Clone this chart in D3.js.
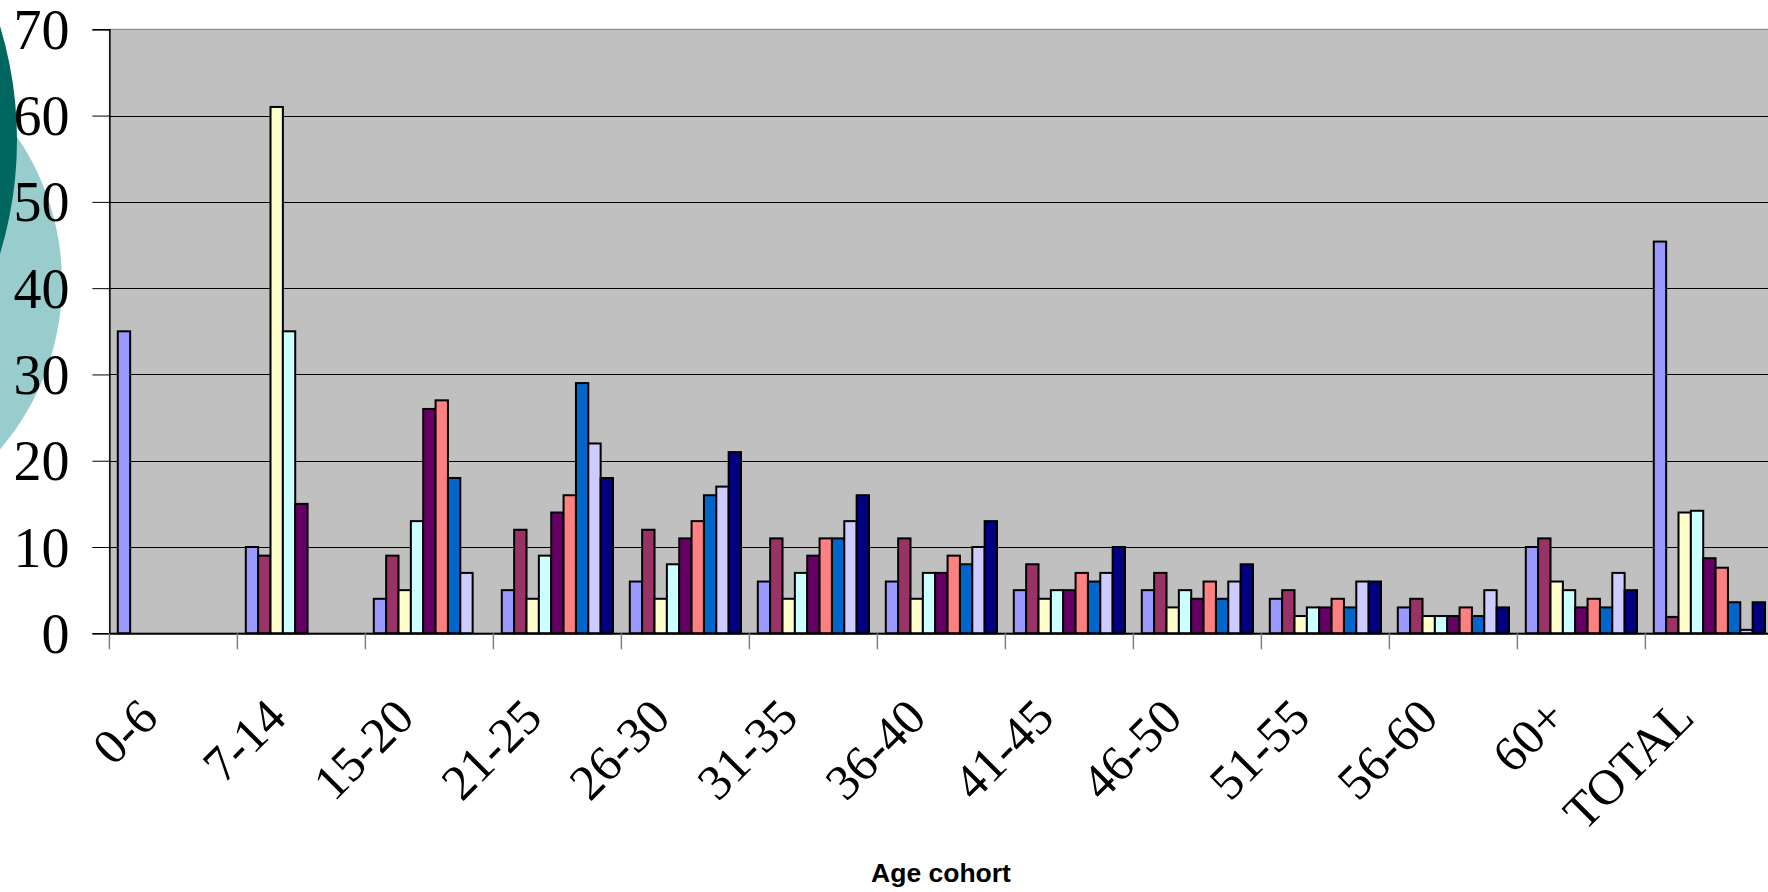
<!DOCTYPE html>
<html>
<head>
<meta charset="utf-8">
<script src="https://cdn.jsdelivr.net/npm/d3@7"></script>
<style>
  html, body { margin: 0; padding: 0; background: #fff; overflow: hidden; }
  svg { display: block; }
</style>
</head>
<body>
<svg id="chart" width="1768" height="892"></svg>
<script>
// Age cohorts along the horizontal axis
const categories = ["0-6", "7-14", "15-20", "21-25", "26-30", "31-35", "36-40",
                    "41-45", "46-50", "51-55", "56-60", "60+", "TOTAL"];

// One array per series, values per cohort (null = no bar)
const series1 = [35, 10, 4, 5, 6, 6, 6, 5, 5, 4, 3, 10, 45.4];
const series2 = [null, 9, 9, 12, 12, 11, 11, 8, 7, 5, 4, 11, 1.9];
const series3 = [null, 61, 5, 4, 4, 4, 4, 4, 3, 2, 2, 6, 14.0];
const series4 = [null, 35, 13, 9, 8, 7, 7, 5, 5, 3, 2, 5, 14.2];
const series5 = [null, 15, 26, 14, 11, 9, 7, 5, 4, 3, 2, 3, 8.7];
const series6 = [null, null, 27, 16, 13, 11, 9, 7, 6, 4, 3, 4, 7.6];
const series7 = [null, null, 18, 29, 16, 11, 8, 6, 4, 3, 2, 3, 3.6];
const series8 = [null, null, 7, 22, 17, 13, 10, 7, 6, 6, 5, 7, 0.4];
const series9 = [null, null, null, 18, 21, 16, 13, 10, 8, 6, 3, 5, 3.6];

const seriesColors = ["#9999FF", "#993366", "#FFFFCC", "#CCFFFF", "#660066",
                      "#FF8080", "#0066CC", "#CCCCFF", "#000080"];

const yTicks = [0, 10, 20, 30, 40, 50, 60, 70];
const xTitle = "Age cohort";

const allSeries = [series1, series2, series3, series4, series5,
                   series6, series7, series8, series9];
const seriesIdx = d3.range(allSeries.length);

const svg = d3.select("#chart");

// Decorative circles at the left edge
svg.append("circle").attr("cx", -195).attr("cy", 282).attr("r", 257)
  .attr("fill", "#99CCCC");
svg.append("circle").attr("cx", -373).attr("cy", 140).attr("r", 390)
  .attr("fill", "#006660");

const plot = { left: 109.4, top: 29.3, bottom: 633.3, band: 128 };

const x = d3.scaleBand()
  .domain(categories)
  .range([plot.left, plot.left + plot.band * categories.length])
  .paddingInner(0).paddingOuter(0);

const x1 = d3.scaleBand()
  .domain(seriesIdx)
  .range([0, x.bandwidth()])
  .paddingInner(0)
  .paddingOuter(0.68);

const y = d3.scaleLinear().domain([0, 70]).range([plot.bottom, plot.top]);

// Plot area
svg.append("rect")
  .attr("x", plot.left).attr("y", plot.top)
  .attr("width", x.range()[1] - plot.left)
  .attr("height", plot.bottom - plot.top)
  .attr("fill", "#C0C0C0")
  .attr("stroke", "#808080").attr("stroke-width", 1);

// Horizontal gridlines
svg.append("g")
  .selectAll("line")
  .data(yTicks.filter(t => t > 0 && t < 70))
  .join("line")
  .attr("x1", plot.left).attr("x2", x.range()[1])
  .attr("y1", d => Math.round(y(d)) + 0.5).attr("y2", d => Math.round(y(d)) + 0.5)
  .attr("stroke", "#000").attr("stroke-width", 1);

// Bars
const groups = svg.append("g")
  .selectAll("g")
  .data(categories)
  .join("g")
  .attr("transform", d => `translate(${x(d)},0)`);

groups.selectAll("rect")
  .data((c, ci) => seriesIdx
    .map(s => ({ s, v: allSeries[s][ci] }))
    .filter(d => d.v !== null && d.v > 0))
  .join("rect")
  .attr("x", d => x1(d.s))
  .attr("width", x1.bandwidth())
  .attr("y", d => y(d.v))
  .attr("height", d => y(0) - y(d.v))
  .attr("fill", d => seriesColors[d.s])
  .attr("stroke", "#000")
  .attr("stroke-width", 2);

// Y axis
const yAxis = d3.axisLeft(y).tickValues(yTicks).tickSize(17).tickPadding(22)
  .tickFormat(d3.format("d"));
const gy = svg.append("g")
  .attr("transform", `translate(${plot.left},0)`)
  .call(yAxis);
gy.select(".domain").attr("stroke", "#000").attr("stroke-width", 1.5);
gy.selectAll(".tick line").attr("stroke", "#000").attr("stroke-width", 1);
gy.selectAll(".tick text")
  .attr("x", -40)
  .attr("dy", "0.34em")
  .attr("fill", "#000")
  .style("font-family", "'Liberation Serif', 'Times New Roman', serif")
  .style("font-size", "56px");

// X axis
const xAxis = d3.axisBottom(x).tickSize(0).tickFormat(() => "");
const gx = svg.append("g")
  .attr("transform", `translate(0,${plot.bottom})`)
  .call(xAxis);
gx.select(".domain").attr("stroke", "#000").attr("stroke-width", 2);

// Category boundary ticks
svg.append("g")
  .selectAll("line")
  .data(categories)
  .join("line")
  .attr("x1", d => x(d)).attr("x2", d => x(d))
  .attr("y1", plot.bottom).attr("y2", plot.bottom + 16)
  .attr("stroke", "#808080").attr("stroke-width", 1.5);

// Rotated category labels
svg.append("g")
  .selectAll("text")
  .data(categories)
  .join("text")
  .attr("transform", d => `translate(${x(d) + x.bandwidth() / 2 - 13},720) rotate(-45)`)
  .attr("text-anchor", "end")
  .attr("fill", "#000")
  .style("font-family", "'Liberation Serif', 'Times New Roman', serif")
  .style("font-size", "50px")
  .text(d => d);

// Axis title
svg.append("text")
  .attr("x", 941).attr("y", 882)
  .attr("text-anchor", "middle")
  .attr("fill", "#000")
  .style("font-family", "'Liberation Sans', Arial, sans-serif")
  .style("font-weight", "bold")
  .style("font-size", "26.5px")
  .text(xTitle);
</script>
</body>
</html>
